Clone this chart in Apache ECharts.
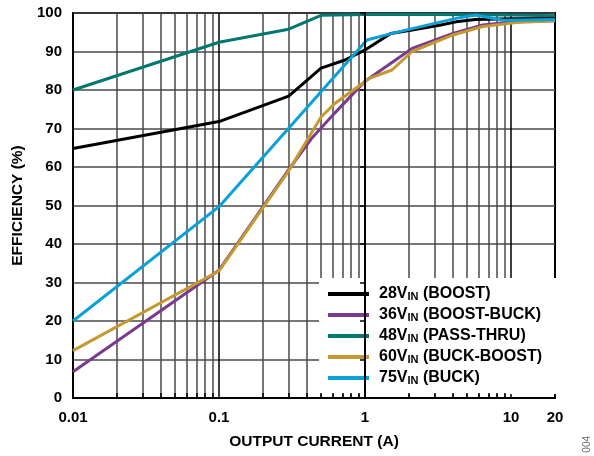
<!DOCTYPE html>
<html>
<head>
<meta charset="utf-8">
<script src="https://cdn.jsdelivr.net/npm/echarts@6/dist/echarts.min.js"></script>
<style>
  html, body { margin: 0; background: #fff; }
  #chart { width: 594px; height: 456px; }
</style>
</head>
<body>
<div id="chart"></div>
<script>
// output current (A) and efficiency (%)
const boostI = [0.01, 0.1, 0.3, 0.5, 0.73, 1, 1.5, 2.1, 3.3, 4.2, 5.7, 10, 20];
const boostEff = [64.8, 71.8, 78.4, 85.7, 87.8, 90.4, 94.7, 95.6, 96.9, 97.7, 98.3, 98.5, 98.6];

const boostBuckI = [0.01, 0.1, 0.3, 0.43, 0.62, 1, 2.1, 4, 6.4, 10.9, 20];
const boostBuckEff = [6.8, 33.2, 59.3, 67.4, 74, 82.3, 90.8, 94.7, 96.9, 97.8, 98];

const passThruI = [0.01, 0.1, 0.3, 0.5, 1, 3, 10, 20];
const passThruEff = [80, 92.4, 95.8, 99.4, 99.6, 99.6, 99.5, 99.3];

const buckBoostI = [0.01, 0.1, 0.3, 0.5, 0.62, 1.07, 1.53, 2.1, 4, 6.4, 10.9, 20];
const buckBoostEff = [12.3, 33, 59, 73, 76.5, 83, 85.2, 90, 94.3, 96.5, 97.5, 98];

const buckI = [0.01, 0.1, 1.03, 1.53, 4.2, 5.7, 8.8, 20];
const buckEff = [20, 49.7, 93, 94.7, 98.6, 99.5, 98.1, 98.3];

const seriesNames = ['28VIN (BOOST)', '36VIN (BOOST-BUCK)', '48VIN (PASS-THRU)', '60VIN (BUCK-BOOST)', '75VIN (BUCK)'];
const seriesColors = ['#000000', '#7a3b8f', '#00786f', '#c4992f', '#0aa0d8'];

const xLabelTicks = [0.01, 0.1, 1, 10, 20];
const majorTicks = [0.01, 0.1, 1, 10];
const minorTicks = [0.02, 0.03, 0.04, 0.05, 0.06, 0.07, 0.08, 0.09,
                    0.2, 0.3, 0.4, 0.5, 0.6, 0.7, 0.8, 0.9,
                    2, 3, 4, 5, 6, 7, 8, 9];

const lg = v => Math.log10(v);
const gridTicks = majorTicks.concat(minorTicks).sort((a, b) => a - b);
const gridColors = gridTicks.map(v => majorTicks.includes(v) ? '#000' : '#4a4a4a');
const toPts = (xs, ys) => xs.map((x, i) => [lg(x), ys[i]]);

const seriesData = [
  toPts(boostI, boostEff),
  toPts(boostBuckI, boostBuckEff),
  toPts(passThruI, passThruEff),
  toPts(buckBoostI, buckBoostEff),
  toPts(buckI, buckEff)
];

const font = '"Liberation Sans", Arial, sans-serif';
const xMin = lg(0.01), xMax = lg(20);
const bold = (size) => ({ fontFamily: font, fontSize: size, fontWeight: 'bold', color: '#000' });

const chart = echarts.init(document.getElementById('chart'));
chart.setOption({
  animation: false,
  textStyle: { fontFamily: font },
  grid: {
    left: 73, top: 13, width: 482, height: 385, outerBoundsMode: 'none',
    show: true, borderColor: '#000', borderWidth: 2
  },
  legend: {
    orient: 'vertical',
    left: 319, top: 278,
    padding: [8, 16, 8, 9],
    backgroundColor: '#fff',
    icon: 'rect',
    itemWidth: 41, itemHeight: 4, itemGap: 5,
    data: seriesNames,
    formatter: name => name.replace('VIN', 'V{sub|IN}'),
    textStyle: Object.assign(bold(16), {
      lineHeight: 16,
      padding: [0, 0, 0, 5],
      rich: {
        sub: Object.assign(bold(11), { verticalAlign: 'bottom', padding: [6, 0, 0, 0] })
      }
    })
  },
  xAxis: [{
    type: 'value', min: xMin, max: xMax,
    axisLine: { show: false },
    axisTick: { show: false, customValues: gridTicks.map(lg) },
    splitLine: { show: true, lineStyle: { color: gridColors, width: 1.5 } },
    axisLabel: Object.assign(bold(15), {
      customValues: xLabelTicks.map(lg), margin: 12,
      formatter: v => String(+Math.pow(10, v).toPrecision(2))
    }),
    name: 'OUTPUT CURRENT (A)', nameLocation: 'middle', nameGap: 36,
    nameTextStyle: bold(15.5)
  }, {
    type: 'value', min: xMin, max: xMax, position: 'bottom', z: 10,
    axisLine: { show: true, lineStyle: { color: '#000', width: 2 } },
    axisTick: { show: true, inside: true, length: 5, customValues: minorTicks.map(lg), lineStyle: { color: '#000', width: 1.5 } },
    axisLabel: { show: false },
    splitLine: { show: false }
  }],
  yAxis: [{
    type: 'value', min: 0, max: 100, interval: 10,
    axisLine: { show: false },
    axisTick: { show: false },
    splitLine: { show: true, lineStyle: { color: '#4a4a4a', width: 1.5 } },
    axisLabel: Object.assign(bold(15), { margin: 11 }),
    name: 'EFFICIENCY (%)', nameLocation: 'middle', nameGap: 41, nameRotate: 90,
    nameTextStyle: bold(15.5)
  }, {
    type: 'value', min: 0, max: 100, interval: 10, position: 'right', z: 10,
    axisLine: { show: true, lineStyle: { color: '#000', width: 2 } },
    axisTick: { show: true, inside: true, length: 5, lineStyle: { color: '#000', width: 1.5 } },
    axisLabel: { show: false },
    splitLine: { show: false }
  }],
  series: seriesNames.map((name, i) => ({
    name, type: 'line', data: seriesData[i],
    symbol: 'none', color: seriesColors[i],
    lineStyle: { width: 3, color: seriesColors[i] }
  })),
  graphic: [{
    type: 'text', left: 582, top: 436, rotation: Math.PI / 2,
    style: { text: '004', fontFamily: font, fontSize: 10, fill: '#666' }
  }]
});
</script>
</body>
</html>
